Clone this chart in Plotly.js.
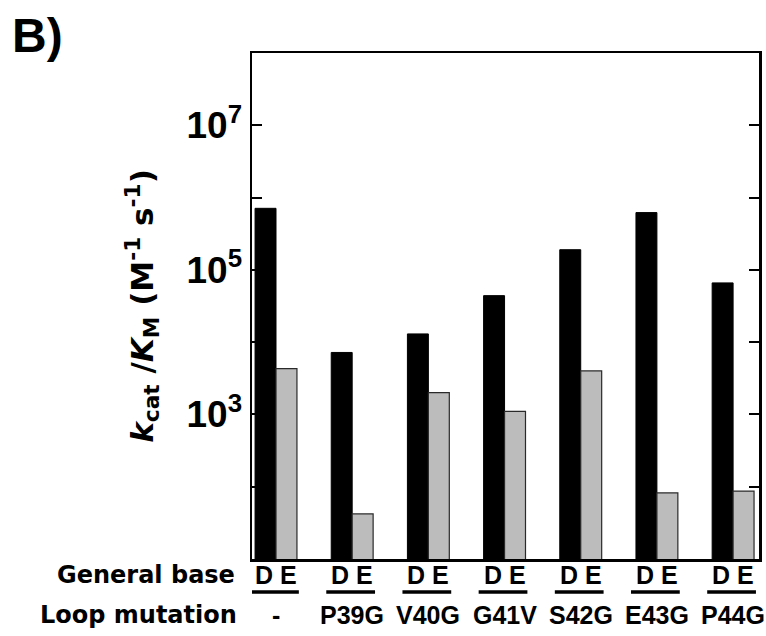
<!DOCTYPE html>
<html>
<head>
<meta charset="utf-8">
<script src="https://cdn.plot.ly/plotly-3.0.1.min.js"></script>
<style>html,body{margin:0;padding:0;background:#fff;}#chart{width:766px;height:636px;}</style>
</head>
<body>
<div id="chart"></div>
<script>
// Loop mutations (x categories)
var mutations = ['-', 'P39G', 'V40G', 'G41V', 'S42G', 'E43G', 'P44G'];
// kcat/KM with Asp (D) as general base
var valuesD = [7.1e5, 7.2e3, 1.3e4, 4.4e4, 1.9e5, 6.2e5, 6.6e4];
// kcat/KM with Glu (E) as general base
var valuesE = [4.3e3, 42, 2.0e3, 1.1e3, 4.0e3, 82, 87];
// y tick positions and labels
var tickVals = [1e2, 1e3, 1e4, 1e5, 1e6, 1e7];
var tickText = ['', '10<sup>3</sup>', '', '10<sup>5</sup>', '', '10<sup>7</sup>'];

var FONT = '"Liberation Sans", Arial, Helvetica, sans-serif';
var WIDE = '"DejaVu Sans", "Liberation Sans", Arial, sans-serif';

var traces = [
  {type: 'bar', name: 'D', x: mutations, y: valuesD,
   marker: {color: '#000000', line: {color: '#000000', width: 1}}},
  {type: 'bar', name: 'E', x: mutations, y: valuesE,
   marker: {color: '#bcbcbc', line: {color: '#2a2a2a', width: 1.2}}}
];

var plotTop = 53, plotBottom = 559, plotLeft = 252;
var plotH = plotBottom - plotTop;
function py(pix) { return (plotBottom - pix) / plotH; }

var annotations = [];
var shapes = [];
annotations.push({xref: 'paper', yref: 'paper', x: (10 - plotLeft) / 507, y: py(7),
  xanchor: 'left', yanchor: 'top', showarrow: false, text: '<b>B)</b>',
  font: {family: FONT, size: 48, color: '#000'}});
annotations.push({xref: 'paper', yref: 'paper', x: (237 - plotLeft) / 507, y: py(575),
  xanchor: 'right', yanchor: 'middle', showarrow: false, text: '<b>General base</b>',
  font: {family: WIDE, size: 24, color: '#000'}});
annotations.push({xref: 'paper', yref: 'paper', x: (239 - plotLeft) / 507, y: py(615),
  xanchor: 'right', yanchor: 'middle', showarrow: false, text: '<b>Loop mutation</b>',
  font: {family: WIDE, size: 24, color: '#000'}});
mutations.forEach(function (m, i) {
  annotations.push({xref: 'x', yref: 'paper', x: i, y: py(575), xanchor: 'center', yanchor: 'middle',
    showarrow: false, text: '<b>D E</b>', font: {family: FONT, size: 25, color: '#000'}});
  annotations.push({xref: 'x', yref: 'paper', x: i, y: py(615), xanchor: 'center', yanchor: 'middle',
    showarrow: false, text: '<b>' + m + '</b>', font: {family: FONT, size: 25, color: '#000'}});
  shapes.push({type: 'line', xref: 'x', yref: 'paper', x0: i - 0.34, x1: i + 0.30, y0: py(592), y1: py(592),
    line: {color: '#000', width: 3.5}});
});

var layout = {
  width: 766, height: 636,
  margin: {l: plotLeft, r: 7, t: plotTop, b: 636 - plotBottom},
  paper_bgcolor: '#ffffff', plot_bgcolor: '#ffffff',
  showlegend: false,
  barmode: 'group', bargap: 0.45, bargroupgap: 0,
  font: {family: FONT, color: '#000'},
  xaxis: {type: 'category', range: [-0.315, 6.34], showticklabels: false, ticks: '',
    showline: true, mirror: true, linecolor: '#000', linewidth: 2.5, showgrid: false, zeroline: false,
    fixedrange: true},
  yaxis: {type: 'log', range: [1, 8], tickvals: tickVals, ticktext: tickText,
    ticks: 'inside', ticklen: 10, tickwidth: 2, tickcolor: '#000',
    showline: true, mirror: 'ticks', linecolor: '#000', linewidth: 2.5, showgrid: false, zeroline: false,
    tickfont: {family: FONT, size: 37, color: '#000', weight: 'bold'},
    title: {text: '<b><i>k</i><sub>cat</sub> /<i>K</i><sub>M</sub> (M<sup>-1</sup> s<sup>-1</sup>)</b>',
      font: {family: WIDE, size: 31, color: '#000'}, standoff: 24},
    fixedrange: true},
  annotations: annotations,
  shapes: shapes
};

Plotly.newPlot('chart', traces, layout, {displayModeBar: false, staticPlot: true});
</script>
</body>
</html>
